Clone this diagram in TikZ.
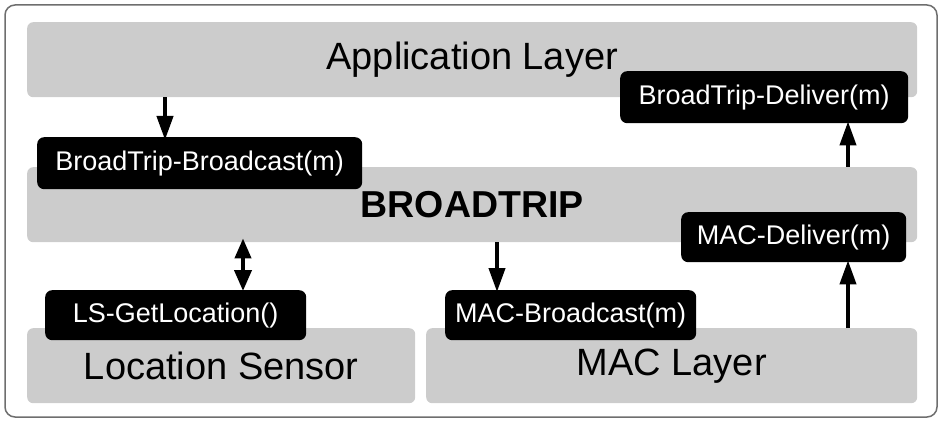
\documentclass[tikz,border=0pt]{standalone}
\usepackage{fontspec}
\setmainfont{Liberation Sans}
\usetikzlibrary{arrows.meta}
\definecolor{layergray}{RGB}{204,204,204}
\definecolor{framegray}{RGB}{110,110,110}
\tikzset{
  layer/.style={fill=layergray, rounded corners=6pt, inner sep=0pt, anchor=north west,
    font=\fontsize{38}{40}\selectfont},
  call/.style={fill=black, text=white, rounded corners=7pt, inner sep=0pt, anchor=north west,
    font=\fontsize{27}{29}\selectfont},
  flow/.style={line width=4pt, -{Triangle[width=16pt,length=24pt]}},
  bothflow/.style={line width=4pt, {Triangle[width=16pt,length=20pt]}-{Triangle[width=17pt,length=21pt]}},
}
\begin{document}
\begin{tikzpicture}[x=1pt,y=-1pt]
  \useasboundingbox (0,0) rectangle (942,422);
  % outer frame
  \draw[framegray, line width=1.5pt, rounded corners=10pt] (5,5) rectangle (937,417);

  % layers
  \node[layer, minimum width=890pt, minimum height=75pt] (app) at (27,22) {Application Layer};
  \node[layer, minimum width=890pt, minimum height=75pt, font=\fontsize{37.5}{40}\selectfont\bfseries] (bt) at (27,167) {BROADTRIP};
  \node[layer, minimum width=388pt, minimum height=75pt] (ls) at (27,328) {Location Sensor};
  \node[layer, minimum width=491pt, minimum height=75pt] (mac) at (426,328) {MAC Layer};

  % primitives
  \node[call, minimum width=288pt, minimum height=52pt] (deliver) at (620,71) {BroadTrip-Deliver(m)};
  \node[call, minimum width=325pt, minimum height=52pt] (bcast) at (37,137) {BroadTrip-Broadcast(m)};
  \node[call, minimum width=225pt, minimum height=50pt] (macdel) at (681,212) {MAC-Deliver(m)};
  \node[call, minimum width=261pt, minimum height=50pt] (getloc) at (45,290) {LS-GetLocation()};
  \node[call, minimum width=251pt, minimum height=50pt] (macbc) at (445,290) {MAC-Broadcast(m)};

  % arrow columns
  \coordinate (xa) at (165,0);
  \coordinate (xb) at (848,0);
  \coordinate (xc) at (243,0);
  \coordinate (xd) at (497,0);

  \draw[flow] (app.south -| xa) -- ([yshift=-3pt]bcast.north -| xa);
  \draw[flow] (bt.north -| xb) -- ([yshift=2pt]deliver.south -| xb);
  \draw[flow] (mac.north -| xb) -- ([yshift=2pt]macdel.south -| xb);
  \draw[flow] (bt.south -| xd) -- ([yshift=-2pt]macbc.north -| xd);
  \draw[bothflow] ([yshift=4pt]bt.south -| xc) -- ([yshift=-1pt]getloc.north -| xc);
\end{tikzpicture}
\end{document}
